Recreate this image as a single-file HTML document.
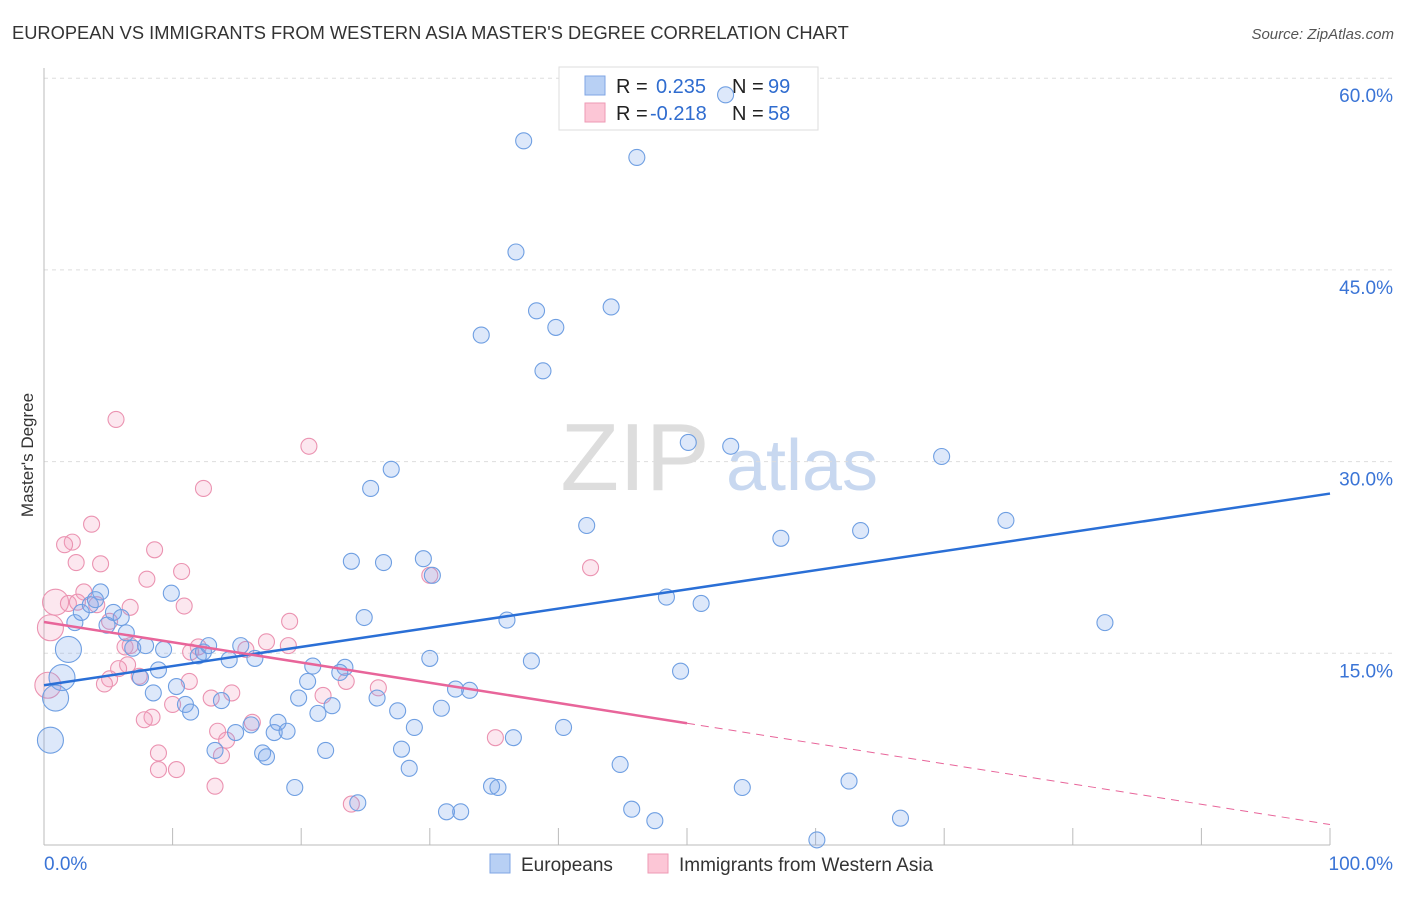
<!DOCTYPE html>
<html><head><meta charset="utf-8"><style>
body{margin:0;background:#fff;font-family:"Liberation Sans",sans-serif;}
svg text{font-family:"Liberation Sans",sans-serif;}
</style></head><body>
<svg id="chart" width="1406" height="892" xmlns="http://www.w3.org/2000/svg">
<text x="12" y="39" font-size="18.3" fill="#333">EUROPEAN VS IMMIGRANTS FROM WESTERN ASIA MASTER'S DEGREE CORRELATION CHART</text>
<text x="1394" y="39" font-size="15" fill="#555" font-style="italic" text-anchor="end">Source: ZipAtlas.com</text>
<text x="33" y="455" font-size="17" fill="#333" text-anchor="middle" transform="rotate(-90 33 455)">Master's Degree</text>
<g><text x="635" y="490" font-size="96" fill="#ddd" font-family="Liberation Serif" text-anchor="middle">ZIP</text><text x="802" y="490" font-size="72" fill="#c8d8f0" text-anchor="middle">atlas</text></g>
<g id="grid"></g>
<g>
<rect x="559" y="67" width="259" height="63" fill="#fff" stroke="#ddd"/>
<rect x="585" y="76" width="20" height="19" fill="#b8d0f4" stroke="#7fa6e4"/>
<rect x="585" y="103" width="20" height="19" fill="#fcc6d6" stroke="#ee9ab4"/>
<text x="616" y="93" font-size="20" fill="#222">R =</text><text x="656" y="93" font-size="20" fill="#2f6ccf">0.235</text>
<text x="732" y="93" font-size="20" fill="#222">N =</text><text x="768" y="93" font-size="20" fill="#2f6ccf">99</text>
<text x="616" y="120" font-size="20" fill="#222">R =</text><text x="650" y="120" font-size="20" fill="#2f6ccf">-0.218</text>
<text x="732" y="120" font-size="20" fill="#222">N =</text><text x="768" y="120" font-size="20" fill="#2f6ccf">58</text>
</g>
<g id="marks"></g>
<g>
<rect x="490" y="854" width="20" height="19" fill="#b8d0f4" stroke="#7fa6e4"/><text x="521" y="871" font-size="19" fill="#333">Europeans</text>
<rect x="648" y="854" width="20" height="19" fill="#fcc6d6" stroke="#ee9ab4"/><text x="679" y="871" font-size="19" fill="#333">Immigrants from Western Asia</text>
</g>
</svg>
<script>
const yTicks=[15,30,45,60];
const yTickLabels=["15.0%","30.0%","45.0%","60.0%"];
const xTicks=[0,10,20,30,40,50,60,70,80,90,100];
const blueX=[37.3,46.1,36.7,38.3,39.8,44.1,34.0,38.8,53.0,50.1,53.4,69.8,27.0,25.4,42.2,74.8,63.5,57.3,23.9,26.4,29.5,30.2,48.4,51.1,82.5,36.0,24.9,37.9,30.0,49.5,20.9,23.4,23.0,20.5,32.0,33.1,25.9,19.8,22.4,21.3,27.5,30.9,28.8,40.4,36.5,27.8,21.9,28.4,44.8,62.6,54.3,34.8,35.3,24.4,19.5,31.3,32.4,45.7,47.5,66.6,60.1,1.9,1.4,0.9,0.5,2.4,2.9,3.6,4.4,4.0,4.9,5.4,6.0,6.4,6.9,7.9,9.3,9.9,8.9,7.5,8.5,10.3,11.0,11.4,12.0,12.4,12.8,14.4,15.3,16.4,13.8,14.9,16.1,13.3,17.0,17.3,17.9,18.2,18.9];
const blueY=[55.1,53.8,46.4,41.8,40.5,42.1,39.9,37.1,58.7,31.5,31.2,30.4,29.4,27.9,25.0,25.4,24.6,24.0,22.2,22.1,22.4,21.1,19.4,18.9,17.4,17.6,17.8,14.4,14.6,13.6,14.0,13.9,13.5,12.8,12.2,12.1,11.5,11.5,10.9,10.3,10.5,10.7,9.2,9.2,8.4,7.5,7.4,6.0,6.3,5.0,4.5,4.6,4.5,3.3,4.5,2.6,2.6,2.8,1.9,2.1,0.4,15.3,13.1,11.5,8.2,17.4,18.2,18.8,19.8,19.2,17.2,18.2,17.8,16.6,15.4,15.6,15.3,19.7,13.7,13.1,11.9,12.4,11.0,10.4,14.8,15.1,15.6,14.5,15.6,14.6,11.3,8.8,9.4,7.4,7.2,6.9,8.8,9.6,8.9];
const blueBig=[61,62,63,64];
const pinkX=[5.6,20.6,12.4,3.7,2.2,1.6,8.6,2.5,4.4,10.7,8.0,42.5,30.0,3.1,0.9,1.9,2.6,4.1,6.7,10.9,0.5,5.1,19.1,17.3,19.0,12.0,15.7,6.3,6.7,11.4,6.5,5.8,7.4,5.1,4.7,11.3,23.5,26.0,14.6,13.0,21.7,10.0,8.4,7.8,13.5,16.2,14.2,8.9,13.8,8.9,10.3,13.3,23.9,35.1,0.3];
const pinkY=[33.3,31.2,27.9,25.1,23.7,23.5,23.1,22.1,22.0,21.4,20.8,21.7,21.1,19.8,19.0,18.9,19.0,18.8,18.6,18.7,17.0,17.5,17.5,15.9,15.6,15.5,15.3,15.5,15.6,15.1,14.1,13.8,13.2,13.0,12.6,12.8,12.8,12.3,11.9,11.5,11.7,11.0,10.0,9.8,8.9,9.6,8.2,7.2,7.0,5.9,5.9,4.6,3.2,8.4,12.5];
const pinkBig=[14,20,54];
const blueTrend=[12.5,27.5];
const pinkTrend=[17.45,1.6];
const pinkSolidEnd=50;
const NS="http://www.w3.org/2000/svg";
const sx=v=>44+v*12.86, sy=v=>845-v*12.78;
function mk(t,a,p){const e=document.createElementNS(NS,t);for(const k in a)e.setAttribute(k,a[k]);p.appendChild(e);return e;}
const grid=document.getElementById('grid'),marks=document.getElementById('marks');
yTicks.forEach((t,i)=>{
 const l=mk('line',{x1:44,x2:1394,y1:sy(t),y2:sy(t),stroke:'#ddd','stroke-dasharray':'4,4'},grid);
 
 
 const tx=mk('text',{x:1393,y:sy(t)+24,'font-size':19,fill:'#3a74d6','text-anchor':'end'},grid);tx.textContent=yTickLabels[i];
 
 
});
mk('line',{x1:44,x2:44,y1:68,y2:845,stroke:'#bbb'},grid);
mk('line',{x1:44,x2:1330,y1:845,y2:845,stroke:'#bbb'},grid);
xTicks.forEach(t=>{const l=mk('line',{x1:sx(t),x2:sx(t),y1:828,y2:845,stroke:'#bbb'},grid);
 
 });
let a=mk('text',{x:44,y:870,'font-size':19,fill:'#3a74d6'},grid);a.textContent='0.0%';


a=mk('text',{x:1393,y:870,'font-size':19,fill:'#3a74d6','text-anchor':'end'},grid);a.textContent='100.0%';


function pts(X,Y,big,fill,stroke,name){X.forEach((x,i)=>{const c=mk('circle',{cx:sx(x),cy:sy(Y[i]),r:big.includes(i)?13:8,fill:fill,stroke:stroke,'stroke-width':1.1},marks);
 
 });}
pts(pinkX,pinkY,pinkBig,'rgba(244,160,190,0.25)','#eb93b1','pink-point');
pts(blueX,blueY,blueBig,'rgba(120,165,235,0.25)','#6f9fe2','blue-point');
let bl=mk('line',{x1:sx(0),y1:sy(blueTrend[0]),x2:sx(100),y2:sy(blueTrend[1]),stroke:'#2a6fd6','stroke-width':2.5},marks);


const pAt=x=>pinkTrend[0]+(pinkTrend[1]-pinkTrend[0])*x/100;
let pl=mk('line',{x1:sx(0),y1:sy(pAt(0)),x2:sx(pinkSolidEnd),y2:sy(pAt(pinkSolidEnd)),stroke:'#e8659a','stroke-width':2.5},marks);


let pd=mk('line',{x1:sx(pinkSolidEnd),y1:sy(pAt(pinkSolidEnd)),x2:sx(100),y2:sy(pAt(100)),stroke:'#e8659a','stroke-width':1,'stroke-dasharray':'8,6'},marks);


</script>
</body></html>
